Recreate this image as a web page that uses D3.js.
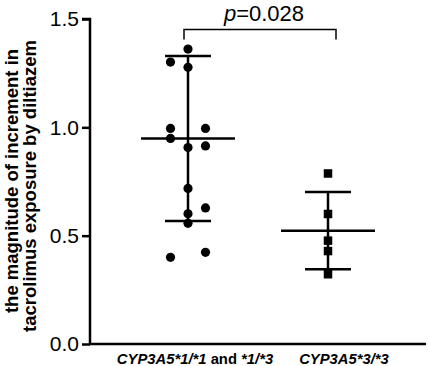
<!DOCTYPE html>
<html><head><meta charset="utf-8">
<script src="https://cdn.jsdelivr.net/npm/d3@7"></script>
<style>body{margin:0;background:#fff}text{font-family:Arial,"Liberation Sans",sans-serif}</style>
</head><body><svg id="c" width="429" height="366"></svg>
<script>
const categories = ["CYP3A5*1/*1 and *1/*3", "CYP3A5*3/*3"];
const group1Values = [1.361, 1.301, 1.277, 0.995, 0.995, 0.949, 0.907, 0.914, 0.718, 0.628, 0.601, 0.557, 0.400, 0.423];
const group1Column = [0, -1, 0, -1, 1, -1, 0, 1, 0, 1, 0, 0, -1, 1];
const group2Values = [0.787, 0.600, 0.477, 0.429, 0.322];
const group2Column = [0, 0, 0, 0, 0];
const centerValues = [0.949, 0.523];
const lowValues = [0.568, 0.345];
const highValues = [1.329, 0.701];
const yTicks = [0.0, 0.5, 1.0, 1.5];
const pLabel = "0.028";

const svg = d3.select("#c");
const x0 = 90, x1 = 426, yTop = 19, yBot = 344;
const y = d3.scaleLinear().domain([0, 1.5]).range([yBot, yTop]);
const x = d3.scalePoint().domain(categories).range([x0, x1]).padding(0.7);
const jit = 17.5;

// axes
const yAxis = d3.axisLeft(y).tickValues(yTicks).tickFormat(d3.format(".1f")).tickSize(8).tickPadding(3);
const gy = svg.append("g").attr("transform", `translate(${x0},0)`).call(yAxis);
gy.select(".domain").attr("stroke", "#000").attr("stroke-width", 2.5).attr("d", `M-8,${yTop}H0V${yBot}`);
gy.selectAll(".tick line").attr("stroke", "#000").attr("stroke-width", 2.5);
gy.selectAll(".tick text").attr("font-size", 21).attr("fill", "#000").attr("font-family", "Arial, 'Liberation Sans', sans-serif");
svg.append("line").attr("x1", x0 - 1).attr("x2", x1).attr("y1", yBot).attr("y2", yBot).attr("stroke", "#000").attr("stroke-width", 2.5);

// y label
svg.append("text").attr("transform", "translate(18,181) rotate(-90)").attr("text-anchor", "middle")
  .attr("font-size", 18.5).attr("font-weight", "bold").attr("fill", "#000").text("the magnitude of increment in");
svg.append("text").attr("transform", "translate(36,186) rotate(-90)").attr("text-anchor", "middle")
  .attr("font-size", 18.5).attr("font-weight", "bold").attr("fill", "#000").text("tacrolimus exposure by diltiazem");

// x labels
const xl1 = svg.append("text").attr("x", x(categories[0]) + 7).attr("y", 364).attr("text-anchor", "middle")
  .attr("font-size", 14.8).attr("font-weight", "bold").attr("fill", "#000");
xl1.append("tspan").attr("font-style", "italic").text("CYP3A5*1/*1");
xl1.append("tspan").text(" and ");
xl1.append("tspan").attr("font-style", "italic").text("*1/*3");
svg.append("text").attr("x", x(categories[1]) + 16).attr("y", 364).attr("text-anchor", "middle")
  .attr("font-size", 14.8).attr("font-weight", "bold").attr("font-style", "italic").attr("fill", "#000").text(categories[1]);

// summary lines
categories.forEach((c, i) => {
  const cx = x(c);
  const g = svg.append("g").attr("stroke", "#000").attr("stroke-width", 2.5);
  g.append("line").attr("x1", cx).attr("x2", cx).attr("y1", y(lowValues[i])).attr("y2", y(highValues[i]));
  g.append("line").attr("x1", cx - 47).attr("x2", cx + 47).attr("y1", y(centerValues[i])).attr("y2", y(centerValues[i]));
  g.append("line").attr("x1", cx - 23).attr("x2", cx + 23).attr("y1", y(lowValues[i])).attr("y2", y(lowValues[i]));
  g.append("line").attr("x1", cx - 23).attr("x2", cx + 23).attr("y1", y(highValues[i])).attr("y2", y(highValues[i]));
});

// points
svg.append("g").selectAll("circle").data(group1Values).join("circle")
  .attr("cx", (d, i) => x(categories[0]) + group1Column[i] * jit).attr("cy", d => y(d)).attr("r", 4.6).attr("fill", "#000");
const s = 8.5;
svg.append("g").selectAll("rect").data(group2Values).join("rect")
  .attr("x", (d, i) => x(categories[1]) + group2Column[i] * jit - s / 2).attr("y", d => y(d) - s / 2)
  .attr("width", s).attr("height", s).attr("fill", "#000");

// bracket
const bx1 = x(categories[0]) - 4, bx2 = x(categories[1]) + 8, by = 29.5;
svg.append("path").attr("d", `M${bx1},${by + 10}V${by}H${bx2}V${by + 10}`).attr("fill", "none").attr("stroke", "#000").attr("stroke-width", 1.5);
const pt = svg.append("text").attr("x", (bx1 + bx2) / 2 + 4).attr("y", 21).attr("text-anchor", "middle").attr("font-size", 22).attr("fill", "#000");
pt.append("tspan").attr("font-style", "italic").text("p");
pt.append("tspan").text("=" + pLabel);
</script></body></html>
